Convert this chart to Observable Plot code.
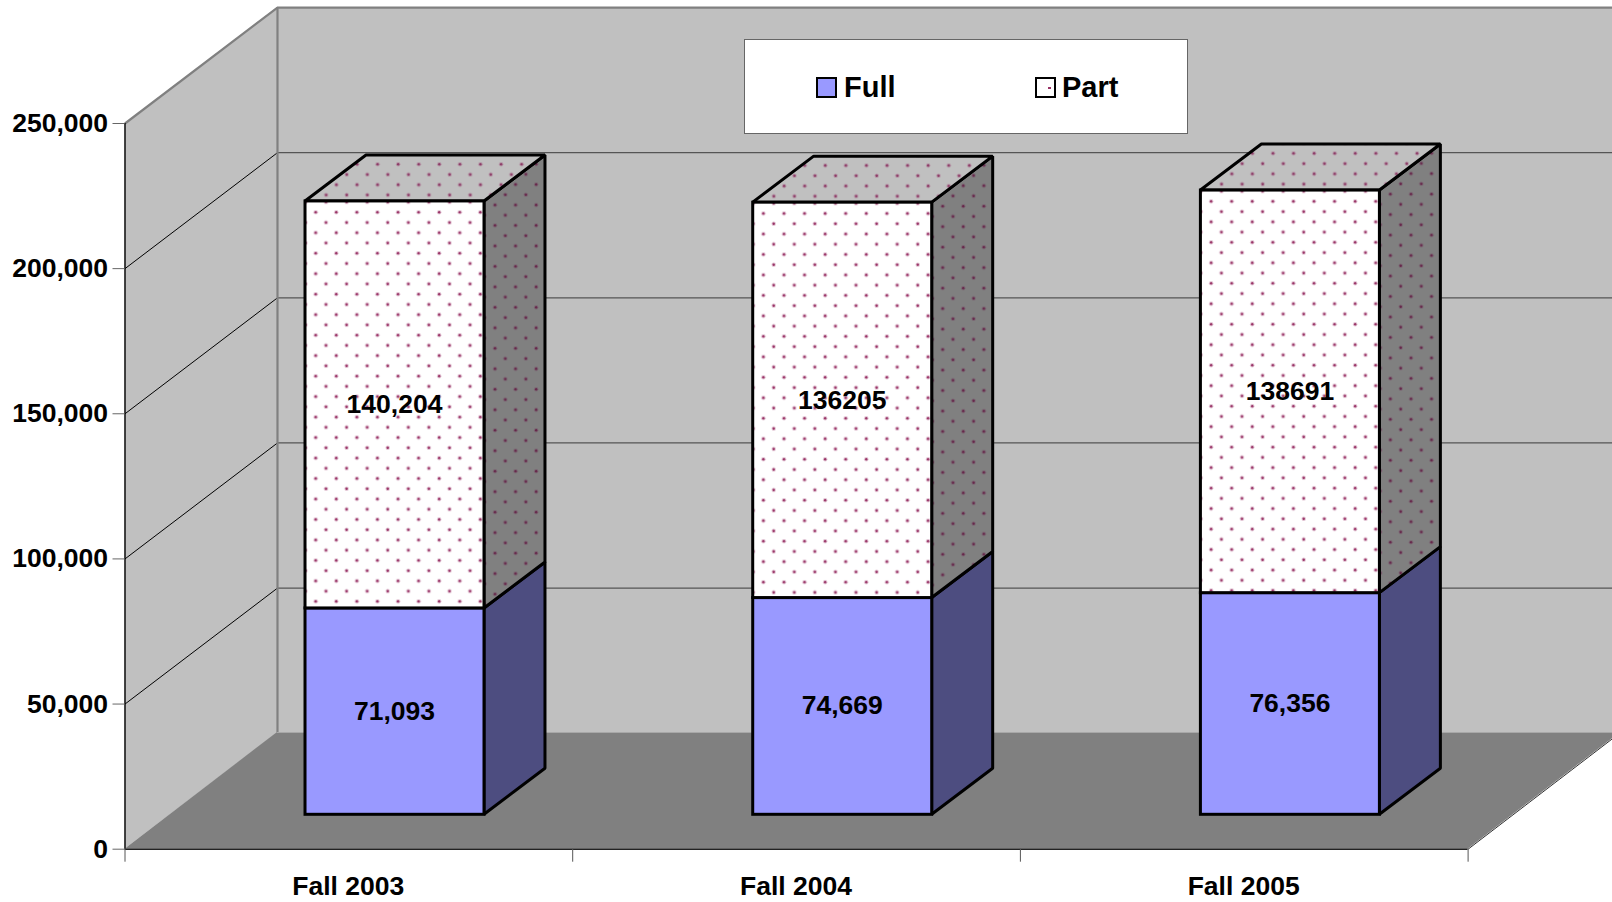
<!DOCTYPE html>
<html>
<head>
<meta charset="utf-8">
<script src="https://cdn.jsdelivr.net/npm/d3@7"></script>
<script src="https://cdn.jsdelivr.net/npm/@observablehq/plot@0.6"></script>
<style>
  html, body { margin: 0; padding: 0; background: #fff; overflow: hidden; }
  #wrap { position: relative; width: 1612px; height: 902px; font-family: "Liberation Sans", Arial, sans-serif; }
  #wrap svg { display: block; }
  #legend { position: absolute; left: 744px; top: 39px; width: 442px; height: 93px; background: #fff; border: 1px solid #666; }
  #legend span.t { position: absolute; top: 29px; font-size: 29px; line-height: 36px; font-weight: bold; color: #000; }
  #legend span.s { position: absolute; top: 37px; width: 17px; height: 17px; border: 2px solid #000; box-sizing: content-box; }
  #legend span.s i { position: absolute; left: 11px; top: 8px; width: 3px; height: 2px; background: #993366; }
</style>
</head>
<body>
<div id="wrap"></div>
<script>
const categories = ["Fall 2003", "Fall 2004", "Fall 2005"];
const fullValues = [71093, 74669, 76356];
const partValues = [140204, 136205, 138691];
const fullLabels = ["71,093", "74,669", "76,356"];
const partLabels = ["140,204", "136205", "138691"];
const yTicks = [0, 50000, 100000, 150000, 200000, 250000];

// Oblique projection, in data units
const catW = 447.7;
const wallDX = 0.3406, wallDY = 39950, floorDY = 40200;
const barDX = 0.1362, barDY = 15847;
const barLeft = 0.4032, barW = 0.3998, barLift = 11850;
const xMax = (1612 - 124.5) / catW;

const bars = categories.map((c, i) => {
  const x1 = i + barLeft, x2 = x1 + barW, y0 = barLift;
  const y1 = y0 + fullValues[i], y2 = y1 + partValues[i];
  return {i, c, x1, x2, y0, y1, y2};
});

// Two-point parallelograms, one series per face
const sideFull = bars.flatMap(b => [
  {k: b.i, x: b.x2, a: b.y0, c: b.y1},
  {k: b.i, x: b.x2 + barDX, a: b.y0 + barDY, c: b.y1 + barDY}
]);
const sidePart = bars.flatMap(b => [
  {k: b.i, x: b.x2, a: b.y1, c: b.y2},
  {k: b.i, x: b.x2 + barDX, a: b.y1 + barDY, c: b.y2 + barDY}
]);
const topPart = bars.flatMap(b => [
  {k: b.i, y: b.y2, a: b.x1, c: b.x2},
  {k: b.i, y: b.y2 + barDY, a: b.x1 + barDX, c: b.x2 + barDX}
]);

const tileW = 20.58, tileH = 20.48;
const DOT = "#993366";

function patterns(index, {x, y}) {
  const svgNS = "http://www.w3.org/2000/svg";
  const defs = document.createElementNS(svgNS, "defs");
  const make = (id, ox, oy, bg, core, halo) => {
    const p = document.createElementNS(svgNS, "pattern");
    p.setAttribute("id", id);
    p.setAttribute("patternUnits", "userSpaceOnUse");
    p.setAttribute("width", tileW);
    p.setAttribute("height", tileH);
    p.setAttribute("patternTransform", `translate(${ox},${oy})`);
    const r = document.createElementNS(svgNS, "rect");
    r.setAttribute("width", tileW + 1); r.setAttribute("height", tileH + 1); r.setAttribute("fill", bg);
    p.appendChild(r);
    for (const [cx, cy] of [[5.1, 5.1], [15.4, 15.35]]) {
      const h = document.createElementNS(svgNS, "circle");
      h.setAttribute("cx", cx); h.setAttribute("cy", cy); h.setAttribute("r", 2.2);
      h.setAttribute("fill", halo); h.setAttribute("fill-opacity", 0.3);
      p.appendChild(h);
      const c = document.createElementNS(svgNS, "circle");
      c.setAttribute("cx", cx); c.setAttribute("cy", cy); c.setAttribute("r", 1.2);
      c.setAttribute("fill", core);
      p.appendChild(c);
    }
    defs.appendChild(p);
  };
  for (const b of bars) {
    const left = x(b.x1), top = y(b.y2), upper = y(b.y2 + barDY), right = x(b.x2);
    make(`front${b.i}`, left + 5.6, top + 6.2, "#ffffff", DOT, DOT);
    make(`top${b.i}`, left + 5.74, upper + 4.2, "#c0c0c0", "#8c3a66", DOT);
    make(`side${b.i}`, right + 5.9, upper + 3.94, "#808080", "#66264a", "#6e2a52");
  }
  return defs;
}

const BAR = {stroke: "#000", strokeWidth: 3, strokeLinejoin: "miter"};
const WALL = "#c0c0c0", FLOOR = "#808080", EDGE = "#808080";
const FONT = 26.5;

const chart = Plot.plot({
  width: 1612,
  height: 902,
  marginLeft: 124.5,
  marginRight: 0,
  marginTop: 123,
  marginBottom: 53.3,
  style: {fontFamily: '"Liberation Sans", Arial, sans-serif', fontWeight: "bold", background: "#fff", overflow: "hidden"},
  x: {type: "linear", domain: [0, xMax], axis: null},
  y: {type: "linear", domain: [0, 250000], axis: null},
  marks: [
    patterns,
    // back wall
    Plot.areaY([{x: wallDX, a: wallDY, c: 250000 + wallDY}, {x: xMax + 1, a: wallDY, c: 250000 + wallDY}],
      {x: "x", y1: "a", y2: "c", fill: WALL}),
    // left wall
    Plot.areaY([{x: 0, a: 0, c: 250000}, {x: wallDX, a: wallDY, c: 250000 + wallDY}],
      {x: "x", y1: "a", y2: "c", fill: WALL}),
    // floor
    Plot.areaX([{y: 0, a: 0, c: 3}, {y: floorDY, a: wallDX, c: 3 + wallDX}],
      {y: "y", x1: "a", x2: "c", fill: FLOOR}),
    // gridlines
    Plot.ruleY(yTicks.slice(1, -1), {y: d => d + wallDY, x1: wallDX, x2: xMax, stroke: "#555", strokeWidth: 1.2}),
    Plot.ruleY([250000 + wallDY], {x1: wallDX, x2: xMax, stroke: EDGE, strokeWidth: 2.2}),
    Plot.link(yTicks.slice(1, -1), {x1: 0, x2: wallDX, y1: d => d, y2: d => d + wallDY, stroke: "#000", strokeWidth: 1}),
    Plot.link([250000], {x1: 0, x2: wallDX, y1: d => d, y2: d => d + wallDY, stroke: EDGE, strokeWidth: 2.2}),
    Plot.ruleX([wallDX], {y1: floorDY, y2: 250000 + wallDY, stroke: EDGE, strokeWidth: 2.2}),
    Plot.ruleY([floorDY], {x1: wallDX, x2: xMax, stroke: "#a8a8a8", strokeWidth: 1}),
    // frame
    Plot.ruleX([0], {y1: 0, y2: 250000, stroke: "#000", strokeWidth: 1.4}),
    Plot.ruleY([0], {x1: 0, x2: 3, stroke: "#222", strokeWidth: 1.4}),
    Plot.link([0], {x1: 3, x2: 3 + wallDX, y1: 0, y2: floorDY, stroke: "#333", strokeWidth: 1}),
    // axes
    Plot.axisY({anchor: "left", ticks: yTicks, tickSize: 12, tickPadding: 5, tickFormat: d3.format(","), fontSize: FONT, label: null, stroke: "#666", fill: "#000"}),
    Plot.axisX({anchor: "bottom", ticks: [0, 1, 2, 3], tickSize: 13, tickFormat: () => "", label: null, stroke: "#555"}),
    Plot.axisX({anchor: "bottom", ticks: [0.5, 1.5, 2.5], tickSize: 0, tickPadding: 26.5, dx: -0.6, tickFormat: d => categories[Math.floor(d)], fontSize: FONT, label: null, fill: "#000"}),
    // bars
    Plot.areaY(sideFull, {x: "x", y1: "a", y2: "c", z: "k", fill: "#4d4d80", ...BAR}),
    Plot.areaY(sidePart, {x: "x", y1: "a", y2: "c", z: "k", fill: {value: d => `url(#side${d.k})`, scale: null}, ...BAR}),
    Plot.areaX(topPart, {y: "y", x1: "a", x2: "c", z: "k", fill: {value: d => `url(#top${d.k})`, scale: null}, ...BAR}),
    Plot.rect(bars, {x1: "x1", x2: "x2", y1: "y0", y2: "y1", fill: "#9999ff", inset: 0, ...BAR}),
    Plot.rect(bars, {x1: "x1", x2: "x2", y1: "y1", y2: "y2", fill: {value: d => `url(#front${d.i})`, scale: null}, inset: 0, ...BAR}),
    // value labels
    Plot.text(bars, {x: d => (d.x1 + d.x2) / 2, y: d => (d.y0 + d.y1) / 2, text: d => fullLabels[d.i], fontSize: FONT, fontWeight: "bold", fill: "#000", dx: -0.5, dy: -0.5}),
    Plot.text(bars, {x: d => (d.x1 + d.x2) / 2, y: d => (d.y1 + d.y2) / 2, text: d => partLabels[d.i], fontSize: FONT, fontWeight: "bold", fill: "#000", dx: -0.5})
  ]
});

const wrap = document.getElementById("wrap");
wrap.appendChild(chart);

const legend = document.createElement("div");
legend.id = "legend";
legend.innerHTML = `
  <span class="s" style="left:71px;background:#9999ff"></span>
  <span class="t" style="left:99px">Full</span>
  <span class="s" style="left:290px;background:#fff"><i></i></span>
  <span class="t" style="left:317px">Part</span>`;
wrap.appendChild(legend);
</script>
</body>
</html>
